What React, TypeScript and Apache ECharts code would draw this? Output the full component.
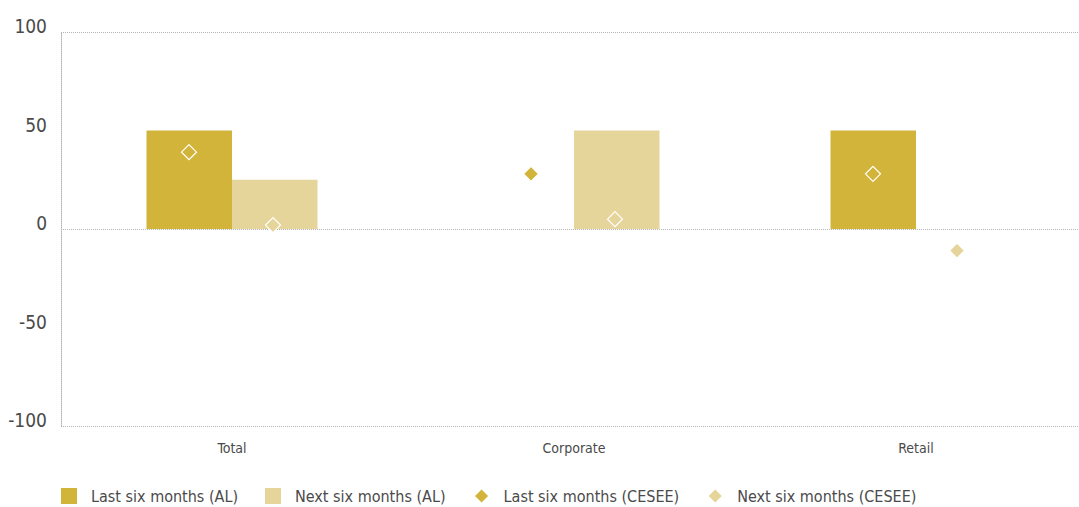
import React, { useEffect, useRef } from "react";
import * as echarts from "echarts";

const categories = ["Total", "Corporate", "Retail"];
const lastAL: (number | null)[] = [50, null, 50];
const nextAL: (number | null)[] = [25, 50, null];
const lastCESEE = [39, 28, 28];
const nextCESEE = [2, 5, -11];
const yTicks = { min: -100, max: 100, step: 50 };

const DARK = "#D3B43A";
const LIGHT = "#E6D59A";
const FONT = "'DejaVu Sans Condensed', 'Liberation Sans', sans-serif";
const TEXT = "#4a4a4a";

export default function App() {
  const ref = useRef<HTMLDivElement>(null);
  useEffect(() => {
    if (!ref.current) return;
    const chart = echarts.init(ref.current, undefined, { renderer: "svg" });
    const dotted = { color: "#b5b5b5", type: "dotted" as const, width: 1 };
    chart.setOption({
      animation: false,
      textStyle: { fontFamily: FONT },
      grid: {
        left: 61,
        top: 32,
        width: 1026,
        height: 394,
        containLabel: false,
        outerBoundsMode: "none",
      },
      xAxis: {
        type: "category",
        data: categories,
        axisLine: { show: false },
        axisTick: { show: false },
        axisLabel: { fontSize: 14, color: TEXT, margin: 15, fontFamily: FONT },
      },
      yAxis: [
        {
          type: "value",
          min: yTicks.min,
          max: yTicks.max,
          interval: yTicks.step,
          axisLine: { show: true, lineStyle: dotted },
          axisTick: { show: false },
          splitLine: { show: false },
          axisLabel: {
            fontSize: 19,
            color: TEXT,
            margin: 14,
            fontFamily: FONT,
            verticalAlign: "bottom",
            lineHeight: 12,
          },
        },
        {
          type: "value",
          position: "left",
          min: yTicks.min,
          max: yTicks.max,
          interval: 100,
          axisLine: { show: false },
          axisTick: { show: false },
          axisLabel: { show: false },
          splitLine: { show: true, lineStyle: dotted },
        },
      ],
      legend: {
        left: 61,
        top: 487,
        padding: 0,
        itemWidth: 16,
        itemHeight: 16,
        itemGap: 27,
        textStyle: { fontSize: 16, color: TEXT, fontFamily: FONT, padding: [0, 0, 0, 9] },
        data: [
          { name: "Last six months (AL)", icon: "rect" },
          { name: "Next six months (AL)", icon: "rect" },
          { name: "Last six months (CESEE)", icon: "diamond" },
          { name: "Next six months (CESEE)", icon: "diamond" },
        ],
      },
      series: [
        {
          name: "Last six months (AL)",
          type: "bar",
          data: lastAL,
          barWidth: "25%",
          barGap: "0%",
          itemStyle: { color: DARK },
        },
        {
          name: "Next six months (AL)",
          type: "bar",
          data: nextAL,
          barWidth: "25%",
          barGap: "0%",
          itemStyle: { color: LIGHT },
        },
        {
          name: "Last six months (CESEE)",
          type: "scatter",
          data: lastCESEE,
          symbol: "diamond",
          symbolSize: 15,
          symbolOffset: [-43, 0],
          itemStyle: { color: DARK, borderColor: "#ffffff", borderWidth: 1.2, opacity: 1 },
          z: 5,
        },
        {
          name: "Next six months (CESEE)",
          type: "scatter",
          data: nextCESEE,
          symbol: "diamond",
          symbolSize: 15,
          symbolOffset: [41, 0],
          itemStyle: { color: LIGHT, borderColor: "#ffffff", borderWidth: 1.2, opacity: 1 },
          z: 5,
        },
      ],
    });
    return () => chart.dispose();
  }, []);
  return (
    <div
      ref={ref}
      style={{ position: "absolute", left: 0, top: 0, width: 1079, height: 507, background: "#fff" }}
    />
  );
}
